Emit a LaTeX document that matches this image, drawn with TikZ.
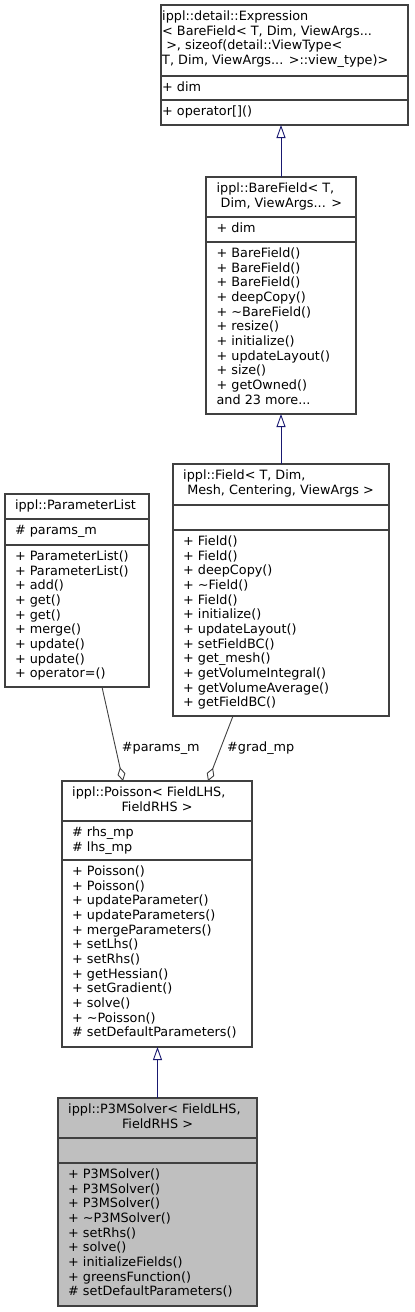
\documentclass[tikz,border=0pt]{standalone}
\usepackage{fontspec}
\setmainfont{DejaVu Sans}
\usetikzlibrary{arrows.meta}

\definecolor{edgeblue}{RGB}{25,25,112}
\definecolor{edgegrey}{RGB}{64,64,64}
\definecolor{boxgrey}{RGB}{191,191,191}

\newcommand{\umlfont}{\fontsize{12.8pt}{14.67pt}\selectfont}
\newcommand{\fs}{\rule{0pt}{10pt}}
% name, left, top, right, bottom, first rule, second rule
\newcommand{\umlclass}[8][]{%
  \node[classbox, #1, minimum width={(#5-#3)*1pt}, minimum height={(#6-#4)*1pt}] (#2) at (#3,#4) {};
  \draw[classrule] (#3,#7) -- (#5,#7);
  \draw[classrule] (#3,#8) -- (#5,#8);
}

\tikzset{
  classbox/.style={draw=edgegrey, line width=1.1pt, fill=white, inner sep=0pt, outer sep=0pt, anchor=north west},
  classrule/.style={draw=edgegrey, line width=1.1pt},
  member/.style={anchor=north west, inner sep=0pt, align=left, font=\umlfont},
  rolelabel/.style={anchor=base west, inner sep=0pt, font=\umlfont},
  inherit/.style={draw=edgeblue, line width=0.9pt, -{Triangle[open, length=13pt, width=9pt]}},
  aggr/.style={draw=edgegrey, line width=0.9pt, {Diamond[open, length=14pt, width=8pt]}-},
}

\begin{document}
\begin{tikzpicture}[x=1pt, y=-1pt]
    \useasboundingbox (0,0) rectangle (415,1312);

    \umlclass{expr}{161}{5}{408}{125}{76}{100}
    \node[member] (expr-t) at (162,10.3) {\fs ippl::detail::Expression\\< BareField< T, Dim, ViewArgs...\\\ >, sizeof(detail::ViewType<\\T, Dim, ViewArgs... >::view\_type)>};
    \node[member] (expr-a) at (162,81.3) {\fs + dim};
    \node[member] (expr-m) at (162,105.3) {\fs + operator[]()};

    \umlclass{bare}{206}{177}{356}{414}{217}{242}
    \node[member] (bare-t) at (216.4,182.3) {\fs ippl::BareField< T,\\\ Dim, ViewArgs... >};
    \node[member] (bare-a) at (216.4,222.3) {\fs + dim};
    \node[member] (bare-m) at (216.4,247.3) {\fs + BareField()\\+ BareField()\\+ BareField()\\+ deepCopy()\\+ \textasciitilde BareField()\\+ resize()\\+ initialize()\\+ updateLayout()\\+ size()\\+ getOwned()\\and 23 more...};

    \umlclass{param}{5}{494}{149}{687}{519}{545}
    \node[member] (param-t) at (14.8,499.3) {\fs ippl::ParameterList};
    \node[member] (param-a) at (14.8,524.3) {\fs \# params\_m};
    \node[member] (param-m) at (14.8,550.3) {\fs + ParameterList()\\+ ParameterList()\\+ add()\\+ get()\\+ get()\\+ merge()\\+ update()\\+ update()\\+ operator=()};

    \umlclass{field}{173}{464}{389}{716}{505}{530}
    \node[member] (field-t) at (183,469.3) {\fs ippl::Field< T, Dim,\\\ Mesh, Centering, ViewArgs >};
    \node[member] (field-m) at (183,535.3) {\fs + Field()\\+ Field()\\+ deepCopy()\\+ \textasciitilde Field()\\+ Field()\\+ initialize()\\+ updateLayout()\\+ setFieldBC()\\+ get\_mesh()\\+ getVolumeIntegral()\\+ getVolumeAverage()\\+ getFieldBC()};

    \umlclass{poisson}{62}{781}{252}{1047}{821}{860}
    \node[member] (poisson-t) at (72,786.3) {\fs ippl::Poisson< FieldLHS,};
    \node[rolelabel, anchor=base] (poisson-t2) at (157,811) {FieldRHS >};
    \node[member] (poisson-a) at (72,826.3) {\fs \# rhs\_mp\\\# lhs\_mp};
    \node[member] (poisson-m) at (72,865.3) {\fs + Poisson()\\+ Poisson()\\+ updateParameter()\\+ updateParameters()\\+ mergeParameters()\\+ setLhs()\\+ setRhs()\\+ getHessian()\\+ setGradient()\\+ solve()\\+ \textasciitilde Poisson()\\\# setDefaultParameters()};

    \umlclass[fill=boxgrey]{p3m}{58}{1098}{257}{1306}{1138}{1163}
    \node[member] (p3m-t) at (68,1103.3) {\fs ippl::P3MSolver< FieldLHS,};
    \node[rolelabel, anchor=base] (p3m-t2) at (157.5,1128) {FieldRHS >};
    \node[member] (p3m-m) at (68,1168.3) {\fs + P3MSolver()\\+ P3MSolver()\\+ P3MSolver()\\+ \textasciitilde P3MSolver()\\+ setRhs()\\+ solve()\\+ initializeFields()\\+ greensFunction()\\\# setDefaultParameters()};

    \draw[inherit] (bare.north) -- (bare.north |- expr.south);
    \draw[inherit] (field.north) -- (field.north |- bare.south);
    \draw[inherit] (p3m.north) -- (p3m.north |- poisson.south);

    \draw[aggr] ([xshift=61pt]poisson.north west) -- ([xshift=97pt]param.south west);
    \draw[aggr] ([xshift=146pt]poisson.north west) -- ([xshift=60pt]field.south west);
    \node[rolelabel] (params-lbl) at (121.7,751.7) {\#params\_m};
    \node[rolelabel] (grad-lbl) at (227,751.7) {\#grad\_mp};
\end{tikzpicture}
\end{document}
